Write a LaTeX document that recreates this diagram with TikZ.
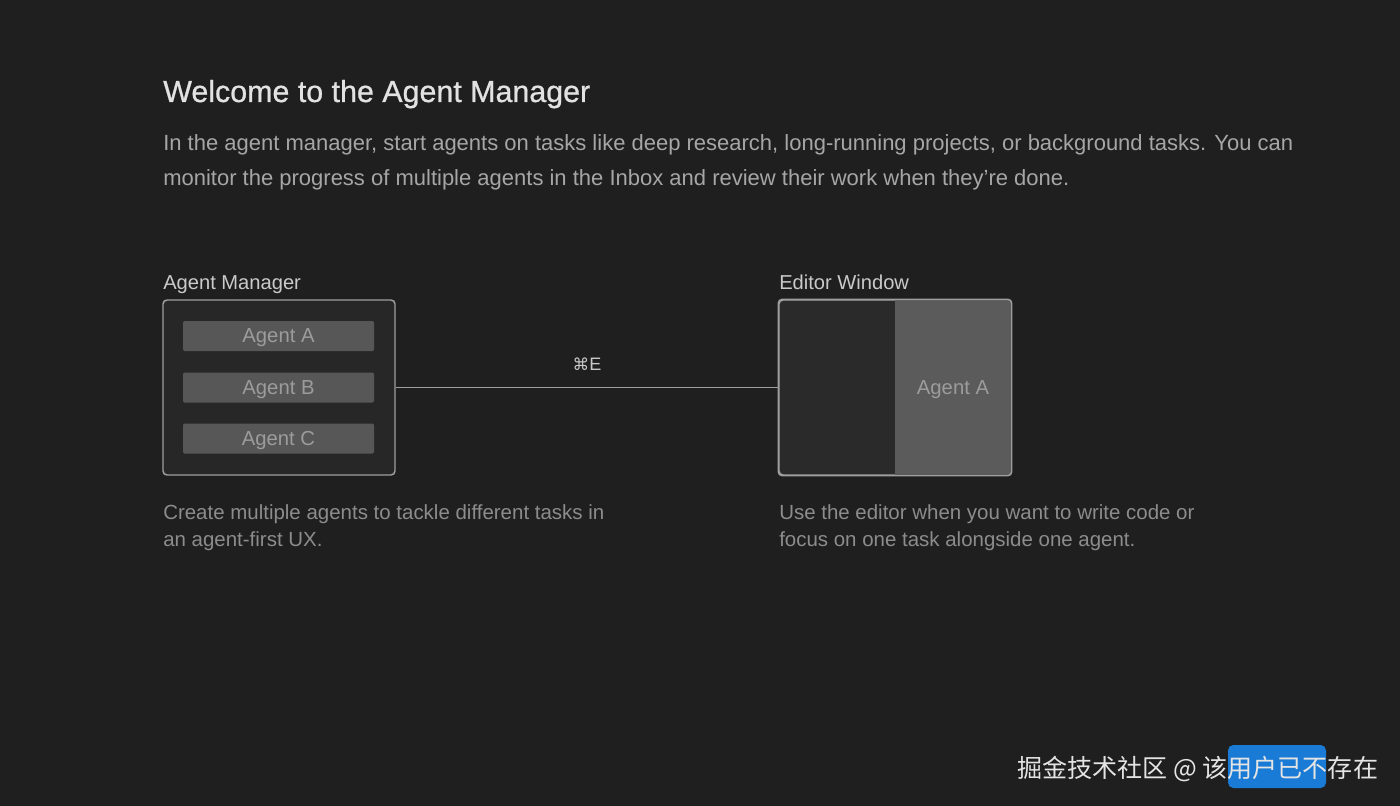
\documentclass[tikz,border=0pt]{standalone}
\usepackage{fontspec}
\setmainfont{Liberation Sans}
\newfontfamily\medfont[FakeBold=0.8]{Liberation Sans}
\newfontfamily\symfont{DejaVu Sans}
\newfontfamily\cjk{Noto Sans CJK SC}
\usepackage{tikz}

\definecolor{bg}{HTML}{1F1F1F}
\definecolor{panel}{HTML}{272727}
\definecolor{edleft}{HTML}{2A2A2A}
\definecolor{barfill}{HTML}{575757}
\definecolor{edright}{HTML}{5B5B5B}
\definecolor{frame}{HTML}{9E9E9E}
\definecolor{titlecol}{HTML}{E2E2E2}
\definecolor{bodycol}{HTML}{A6A6A6}
\definecolor{labelcol}{HTML}{CACACA}
\definecolor{capcol}{HTML}{8C8C8C}
\definecolor{bartext}{HTML}{9C9C9C}
\definecolor{wmblue}{HTML}{1A7BD6}
\definecolor{wmtext}{HTML}{E4E4E4}

\newcommand{\fs}[1]{\fontsize{#1pt}{#1pt}\selectfont}

\begin{document}
\begin{tikzpicture}[x=0.75pt, y=-0.75pt,
    txt/.style={anchor=base west, inner sep=0pt},
    box/.style={draw=frame, line width=1.1pt, rounded corners=3pt,
      minimum width=232*0.75pt, minimum height=175*0.75pt, inner sep=0pt},
    bar/.style={fill=barfill, text=bartext, font=\fs{15.2}, text depth=0pt,
      rounded corners=1pt, minimum width=191*0.75pt, minimum height=30*0.75pt, inner sep=0pt},
    link/.style={draw=frame, line width=0.9pt}]
			\fill[bg] (0,0) rectangle (1400,806);
			\useasboundingbox (0,0) rectangle (1400,806);

			\node[txt, text=titlecol, font=\medfont\fs{22.8}] (title) at (163,102) {Welcome to the Agent Manager};
			\node[txt, text=bodycol, font=\fs{16.5}] (intro1) at (163,151) {In the agent manager, start agents on tasks like deep research, long-running projects, or background tasks. You can};
			\node[txt, text=bodycol, font=\fs{16.5}] (intro2) at (163,186) {monitor the progress of multiple agents in the Inbox and review their work when they're done.};

			\node[txt, text=labelcol, font=\fs{15.1}] (mgrlabel) at (163,289) {Agent Manager};
			\node[txt, text=labelcol, font=\fs{15.1}] (edlabel) at (779,289) {Editor Window};

			\node[box, fill=panel] (mgr) at (279,387.5) {};
			\foreach \n/\y in {A/336,B/387.5,C/438.5}
				\node[bar] (bar\n) at (278.5,\y) {Agent \n};

			\node[box, fill=edleft] (ed) at (895,387.5) {};
			\begin{scope}
				\clip[rounded corners=3pt] (ed.south west) rectangle (ed.north east);
				\fill[edright] (ed.north) rectangle (ed.south east);
			\end{scope}
			\draw[frame, line width=1.1pt, rounded corners=3pt] (ed.south west) rectangle (ed.north east);
			\node[text=bartext, font=\fs{15.2}, text depth=0pt, inner sep=0pt] (edA) at (953,387.5) {Agent A};

			\draw[link] (mgr.east) -- (ed.west) node[midway, above=12pt, inner sep=0pt, text=labelcol, font=\fs{13.5}] (key) {{\symfont\fs{12.5}⌘}E};

			\node[txt, text=capcol, font=\fs{15.35}] (capL1) at (163,519) {Create multiple agents to tackle different tasks in};
			\node[txt, text=capcol, font=\fs{15.35}] (capL2) at (163,546) {an agent-first UX.};
			\node[txt, text=capcol, font=\fs{15.35}] (capR1) at (779,519) {Use the editor when you want to write code or};
			\node[txt, text=capcol, font=\fs{15.35}] (capR2) at (779,546) {focus on one task alongside one agent.};

			\fill[wmblue, rounded corners=4pt] (1228,745) rectangle (1326,788);
			\node[txt, text=wmtext, font={\cjk\fs{18.8}}] (mark) at (1017,777) {掘金技术社区 @ 该用户已不存在};
		\end{tikzpicture}
\end{document}
